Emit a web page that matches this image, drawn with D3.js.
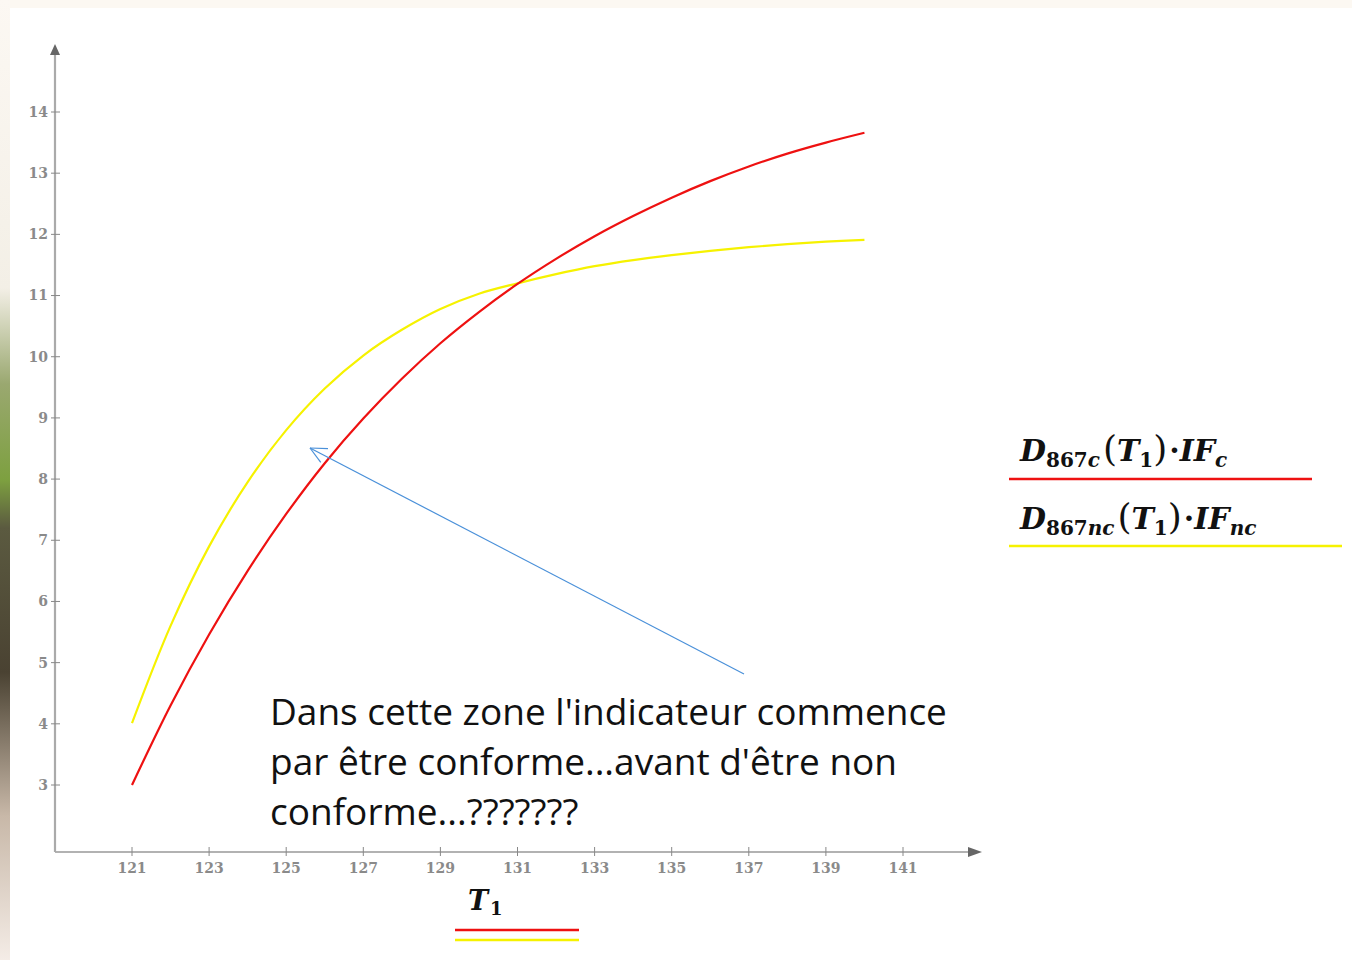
<!DOCTYPE html>
<html>
<head>
<meta charset="utf-8">
<script src="https://cdn.jsdelivr.net/npm/d3@7"></script>
<style>
  body { margin: 0; background: #fff; }
  svg { display: block; }
</style>
</head>
<body>
<div class="container"></div>
<script>
const width = 1352;
const height = 960;

// values
const t1 = [121, 122, 123, 124, 125, 126, 127, 128, 129, 130, 131, 132, 133, 134, 135, 136, 137, 138, 139, 140];
const redVals = [3.0, 4.3, 5.46, 6.5, 7.43, 8.26, 8.99, 9.64, 10.22, 10.73, 11.19, 11.6, 11.97, 12.3, 12.6, 12.87, 13.11, 13.32, 13.5, 13.66];
const yellowVals = [4.01, 5.6, 6.9, 7.95, 8.8, 9.48, 10.02, 10.44, 10.78, 11.03, 11.2, 11.35, 11.48, 11.58, 11.66, 11.73, 11.79, 11.84, 11.88, 11.91];
const xTicks = [121, 123, 125, 127, 129, 131, 133, 135, 137, 139, 141];
const yTicks = [3, 4, 5, 6, 7, 8, 9, 10, 11, 12, 13, 14];
const noteLines = ["Dans cette zone l'indicateur commence", "par être conforme...avant d'être non", "conforme...???????"];

const svg = d3.select(".container")
    .append("svg")
    .attr("width", width)
    .attr("height", height);

// slide background bits at the edges
const defs = svg.append("defs");
const grad = defs.append("linearGradient")
    .attr("id", "edge")
    .attr("x1", 0).attr("y1", 0).attr("x2", 0).attr("y2", 1);
[[0, "#fcf8f3"], [0.3, "#f3efe6"], [0.4, "#9aa870"], [0.5, "#7da040"], [0.55, "#5b5a40"], [0.7, "#4a4232"], [0.85, "#c8b8a8"], [1, "#f4ece6"]]
    .forEach(s => grad.append("stop").attr("offset", s[0]).attr("stop-color", s[1]));

svg.append("rect").attr("x", 0).attr("y", 0).attr("width", width).attr("height", 8).attr("fill", "#fcf8f2");
svg.append("rect").attr("x", 0).attr("y", 0).attr("width", 10).attr("height", height).attr("fill", "url(#edge)");

const xScale = d3.scaleLinear().domain([121, 141]).range([132, 903]);
const yScale = d3.scaleLinear().domain([3, 14]).range([785, 112]);

const axisY = 852;
const axisX = 55;
const axisCol = "#999";
const tickFont = "'DejaVu Serif', 'Liberation Serif', serif";

const g = svg.append("g");

// axes lines
g.append("line")
    .attr("x1", axisX).attr("x2", 970)
    .attr("y1", axisY).attr("y2", axisY)
    .attr("stroke", axisCol).attr("stroke-width", 1.5);
g.append("line")
    .attr("x1", axisX).attr("x2", axisX)
    .attr("y1", axisY).attr("y2", 52)
    .attr("stroke", "#aaa").attr("stroke-width", 2.2);
g.append("path")
    .attr("d", `M982,${axisY} L968,${axisY - 5} L968,${axisY + 5} Z`)
    .attr("fill", "#666");
g.append("path")
    .attr("d", `M${axisX},44 L${axisX - 5},55 L${axisX + 5},55 Z`)
    .attr("fill", "#666");

// x ticks
const xt = g.selectAll(".xt").data(xTicks).enter().append("g")
    .attr("transform", d => `translate(${xScale(d)},${axisY})`);
xt.append("line").attr("y1", -5).attr("y2", 4).attr("stroke", "#888").attr("stroke-width", 1);
xt.append("text")
    .attr("y", 21)
    .attr("text-anchor", "middle")
    .attr("font-family", tickFont)
    .attr("font-size", 14)
    .attr("font-weight", "bold")
    .attr("fill", "#8a8a8a")
    .text(d => d);

// y ticks
const yt = g.selectAll(".yt").data(yTicks).enter().append("g")
    .attr("transform", d => `translate(${axisX},${yScale(d)})`);
yt.append("line").attr("x1", -4).attr("x2", 5).attr("stroke", "#888").attr("stroke-width", 1);
yt.append("text")
    .attr("x", -7)
    .attr("dy", "0.35em")
    .attr("text-anchor", "end")
    .attr("font-family", tickFont)
    .attr("font-size", 14)
    .attr("font-weight", "bold")
    .attr("fill", "#8a8a8a")
    .text(d => d);

// curves
const line = d3.line()
    .x((d, i) => xScale(t1[i]))
    .y(d => yScale(d))
    .curve(d3.curveCatmullRom.alpha(0.5));

g.append("path").datum(yellowVals)
    .attr("d", line)
    .attr("fill", "none")
    .attr("stroke", "#f6f200")
    .attr("stroke-width", 2.2);
g.append("path").datum(redVals)
    .attr("d", line)
    .attr("fill", "none")
    .attr("stroke", "#ee1111")
    .attr("stroke-width", 2.2);

// x axis label T1 + colour bars
const mathFont = "'DejaVu Serif', 'Liberation Serif', serif";
const xl = g.append("text")
    .attr("x", 468).attr("y", 910)
    .attr("font-family", mathFont)
    .attr("font-style", "italic")
    .attr("font-weight", "bold")
    .attr("font-size", 27)
    .attr("fill", "#111");
xl.append("tspan").text("T");
xl.append("tspan").attr("dy", 5).attr("dx", 2).attr("font-size", 18).attr("font-style", "normal").text("1");
g.append("line").attr("x1", 455).attr("x2", 579).attr("y1", 930).attr("y2", 930).attr("stroke", "#ee1111").attr("stroke-width", 2.5);
g.append("line").attr("x1", 455).attr("x2", 579).attr("y1", 940).attr("y2", 940).attr("stroke", "#f6f200").attr("stroke-width", 2.5);

// legend
const legend = [
    { sub: "867c", fsub: "c", y: 461, lineY: 479, x2: 1312, col: "#ee1111" },
    { sub: "867nc", fsub: "nc", y: 529, lineY: 546, x2: 1342, col: "#f6f200" }
];
legend.forEach(l => {
    const t = g.append("text")
        .attr("x", 1020).attr("y", l.y)
        .attr("font-family", mathFont)
        .attr("font-weight", "bold")
        .attr("font-size", 30)
        .attr("fill", "#111");
    t.append("tspan").attr("font-style", "italic").text("D");
    t.append("tspan").attr("dy", 6).attr("font-size", 20).text(l.sub.slice(0, 3));
    t.append("tspan").attr("font-size", 20).attr("font-style", "italic").text(l.sub.slice(3));
    t.append("tspan").attr("dy", -6).attr("dx", 3).attr("font-size", 36).attr("font-weight", "normal").text("(");
    t.append("tspan").attr("font-style", "italic").text("T");
    t.append("tspan").attr("dy", 6).attr("font-size", 20).text("1");
    t.append("tspan").attr("dy", -6).attr("font-size", 36).attr("font-weight", "normal").text(")");
    t.append("tspan").attr("dx", 2).text("·");
    t.append("tspan").attr("font-style", "italic").text("IF");
    t.append("tspan").attr("dy", 6).attr("font-size", 20).attr("font-style", "italic").text(l.fsub);
    g.append("line")
        .attr("x1", 1009).attr("x2", l.x2)
        .attr("y1", l.lineY).attr("y2", l.lineY)
        .attr("stroke", l.col).attr("stroke-width", 2.5);
});

// annotation arrow
const tip = [310, 448];
const tail = [744, 674];
g.append("line")
    .attr("x1", tail[0]).attr("y1", tail[1])
    .attr("x2", tip[0]).attr("y2", tip[1])
    .attr("stroke", "#4a90d9").attr("stroke-width", 1.2);
const ang = Math.atan2(tail[1] - tip[1], tail[0] - tip[0]);
[0.45, -0.45].forEach(a => {
    g.append("line")
        .attr("x1", tip[0]).attr("y1", tip[1])
        .attr("x2", tip[0] + 18 * Math.cos(ang + a))
        .attr("y2", tip[1] + 18 * Math.sin(ang + a))
        .attr("stroke", "#4a90d9").attr("stroke-width", 1.2);
});

// annotation text
g.selectAll(".note").data(noteLines).enter().append("text")
    .attr("x", 270)
    .attr("y", (d, i) => 725 + i * 50)
    .attr("font-family", "'Open Sans', 'Noto Sans', sans-serif")
    .attr("font-size", 37)
    .attr("fill", "#111")
    .text(d => d);
</script>
</body>
</html>
